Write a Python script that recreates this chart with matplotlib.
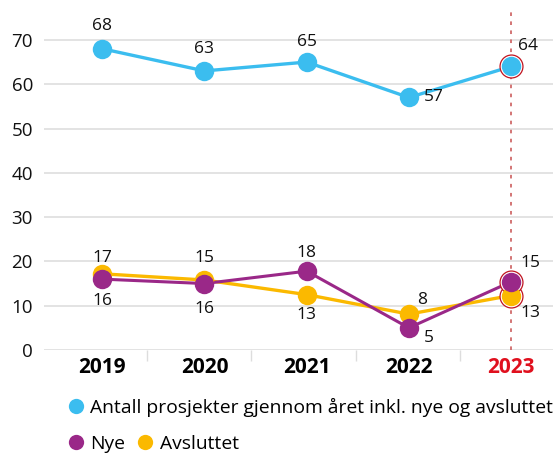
import matplotlib
matplotlib.use("Agg")
import matplotlib.pyplot as plt
from matplotlib.lines import Line2D

plt.rcParams['font.family'] = ['Open Sans', 'DejaVu Sans']

years = ["2019", "2020", "2021", "2022", "2023"]
antall = [68, 63, 65, 57, 64]
nye = [16, 15, 17.8, 5, 15.4]
avsluttet = [17.2, 15.8, 12.5, 8.1, 12.3]
antall_labels = ["68", "63", "65", "57", "64"]
nye_labels = ["16", "16", "18", "5", "15"]
avsluttet_labels = ["17", "15", "13", "8", "13"]

BLUE = "#3bbdef"
PURPLE = "#9a2888"
YELLOW = "#fbb900"
RED = "#e0101e"

# label offsets in pixels (dx, dy)
antall_off = [(0, 23), (0, 22), (0, 20), (25, 0), (17, 20)]
nye_off = [(0, -22), (0, -25), (0, 18), (20, -10), (19, 19)]
avs_off = [(0, 16), (0, 22), (0, -20), (13, 14), (19, -17)]

fig = plt.figure(figsize=(5.53, 4.54), dpi=100)
ax = fig.add_axes([44 / 553, 1 - 350 / 454, 1 - 44 / 553, 338 / 454])

x = list(range(len(years)))
ax.axvline(4, color="#d06a6a", lw=1.3, ls=(0, (2, 3)), zorder=1)

for vals, col, lw in [(avsluttet, YELLOW, 2.4), (nye, PURPLE, 2.2), (antall, BLUE, 2.4)]:
    ax.plot(x, vals, color=col, lw=lw, zorder=3)
    # ring around last point
    ax.plot(x[-1], vals[-1], marker="o", ms=16.5, mfc="white", mec="#c01420", mew=0.9, zorder=4)
    ax.plot(x, vals, ls="none", marker="o", ms=14, mew=0, color=col, zorder=5)

for vals, labs, offs in [(antall, antall_labels, antall_off), (nye, nye_labels, nye_off),
                         (avsluttet, avsluttet_labels, avs_off)]:
    for xi, v, t, (dx, dy) in zip(x, vals, labs, offs):
        ax.annotate(t, (xi, v), xytext=(dx, dy), textcoords="offset pixels",
                    ha="center", va="center", fontsize=12.5, color="#111111", zorder=6)

ax.set_xlim(-0.57, 4.41)
ax.set_ylim(0, 76.3)
ax.set_yticks([0, 10, 20, 30, 40, 50, 60, 70])
ax.grid(axis="y", color="#e0e0e0", lw=1.3)
ax.set_axisbelow(True)
for s in ax.spines.values():
    s.set_visible(False)
ax.tick_params(axis="y", length=0, pad=8, labelsize=13.5, labelcolor="#111111")

ax.set_xticks(x)
ax.set_xticklabels(years, fontweight="bold", fontsize=15)
ax.get_xticklabels()[-1].set_color(RED)
ax.tick_params(axis="x", which="major", length=0, pad=5)
ax.set_xticks([0.44, 1.46, 2.48, 3.5], minor=True)
ax.tick_params(axis="x", which="minor", length=8, color="#dddddd", width=1)

h_blue = Line2D([], [], ls="none", marker="o", ms=11, mew=0, color=BLUE)
h_nye = Line2D([], [], ls="none", marker="o", ms=11, mew=0, color=PURPLE)
h_avs = Line2D([], [], ls="none", marker="o", ms=11, mew=0, color=YELLOW)
fig.legend([h_blue], ["Antall prosjekter gjennom året inkl. nye og avsluttet"],
           loc="center left", bbox_to_anchor=(67 / 553, 1 - 407 / 454), frameon=False,
           borderpad=0, borderaxespad=0, handlelength=0.9, handletextpad=0.3, fontsize=13.9)
fig.legend([h_nye, h_avs], ["Nye", "Avsluttet"], ncol=2,
           loc="center left", bbox_to_anchor=(67 / 553, 1 - 444 / 454), frameon=False,
           borderpad=0, borderaxespad=0, handlelength=0.9, handletextpad=0.3,
           columnspacing=0.6, fontsize=13.9)

fig.savefig("out.png", dpi=100)
